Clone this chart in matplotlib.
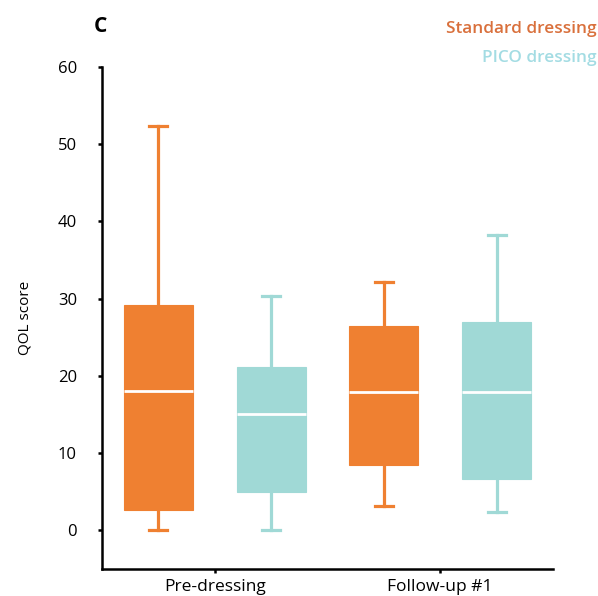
import matplotlib
matplotlib.use("Agg")
import matplotlib.pyplot as plt

plt.rcParams['font.family'] = ['Open Sans', 'DejaVu Sans']

# data
groups = ['Pre-dressing', 'Follow-up #1']
series = ['Standard dressing', 'PICO dressing']
colors = ['#EF8031', '#A0D9D6']
label_colors = ['#D9703C', '#A3DCE3']

whislo = [[0.0, 3.1], [0.0, 2.4]]
q1 = [[2.6, 8.5], [5.0, 6.6]]
med = [[18.1, 17.9], [15.1, 17.9]]
q3 = [[29.2, 26.4], [21.2, 27.0]]
whishi = [[52.3, 32.2], [30.4, 38.2]]

yticks = [0, 10, 20, 30, 40, 50, 60]

fig = plt.figure(figsize=(5.98, 5.96), dpi=100)
ax = fig.add_axes([0.1706, 0.0453, 0.7541, 0.8423])

offsets = [-0.25, 0.25]
for s in range(len(series)):
    stats = []
    for g in range(len(groups)):
        stats.append(dict(whislo=whislo[s][g], q1=q1[s][g], med=med[s][g],
                          q3=q3[s][g], whishi=whishi[s][g], fliers=[]))
    pos = [g + offsets[s] for g in range(len(groups))]
    ax.bxp(stats, positions=pos, widths=0.305, patch_artist=True,
           showfliers=False, capwidths=0.08,
           boxprops=dict(facecolor=colors[s], edgecolor=colors[s], linewidth=0.8),
           whiskerprops=dict(color=colors[s], linewidth=2.3),
           capprops=dict(color=colors[s], linewidth=2.3),
           medianprops=dict(color='white', linewidth=2.0))

ax.set_xlim(-0.5, 1.5)
ax.set_ylim(-5, 60)
ax.set_xticks(range(len(groups)))
ax.set_xticklabels(groups, fontsize=12.5)
ax.set_yticks(yticks)
ax.set_yticklabels([str(t) for t in yticks], fontsize=12)
ax.set_ylabel('QOL score', fontsize=11, labelpad=18)

for side in ['top', 'right']:
    ax.spines[side].set_visible(False)
for side in ['left', 'bottom']:
    ax.spines[side].set_linewidth(1.8)
ax.tick_params(axis='y', length=3, width=1.8, pad=15)
ax.tick_params(axis='x', length=3, width=1.8, pad=4)

fig.text(0.157, 0.955, 'C', fontsize=15, fontweight='bold', ha='left', va='center')
fig.text(0.998, 0.951, series[0], color=label_colors[0], fontsize=12.4,
         fontweight='semibold', ha='right', va='center')
fig.text(0.998, 0.902, series[1], color=label_colors[1], fontsize=12.4,
         fontweight='semibold', ha='right', va='center')

fig.savefig('out.png', dpi=100)
